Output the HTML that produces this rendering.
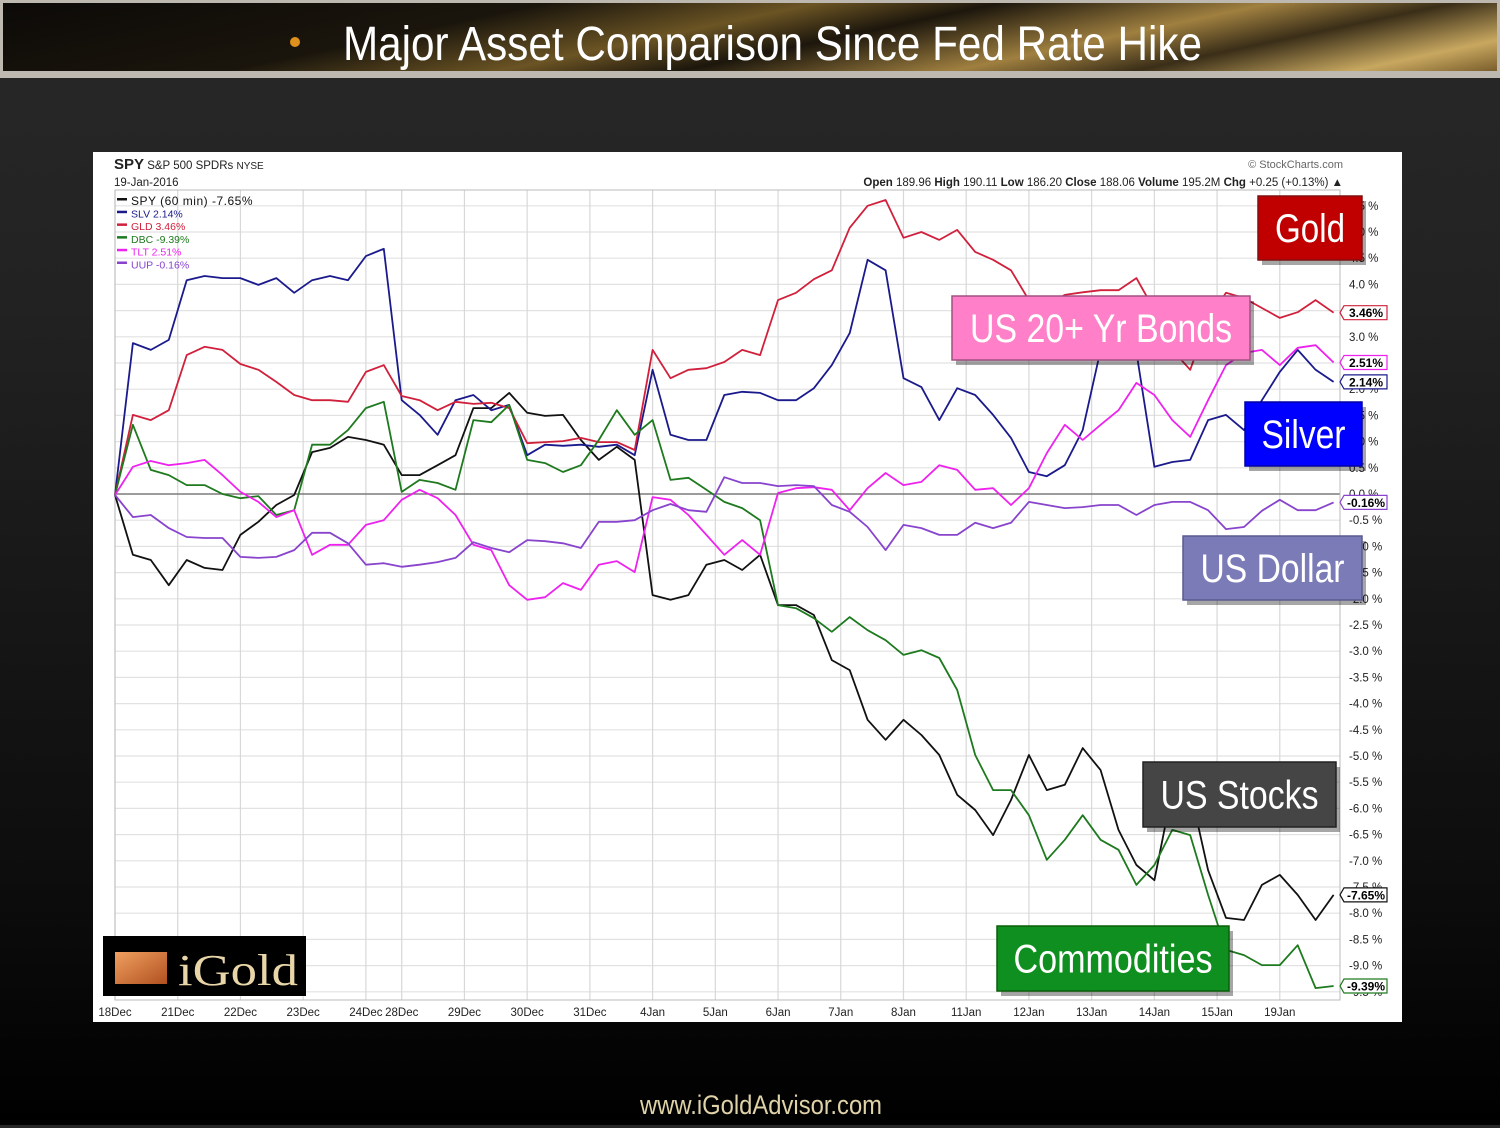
<!DOCTYPE html>
<html><head><meta charset="utf-8"><style>
html,body{margin:0;padding:0;}
body{width:1500px;height:1125px;overflow:hidden;background:linear-gradient(#282828 0px,#222 300px,#0c0c0c 900px,#000 1125px);font-family:"Liberation Sans",sans-serif;position:relative;}
#banner{position:absolute;left:0;top:0;width:1500px;height:78px;background:#bdb9b0;}
#banner-inner{position:absolute;left:3px;top:3px;width:1494px;height:68px;background:linear-gradient(168deg,#0c0a08 0%,#1a150c 30%,#6b5424 45%,#1c160c 55%,#a08040 70%,#3a2e18 80%,#c8a860 92%,#7a5e2c 100%);}
#chart{position:absolute;left:93px;top:152px;width:1309px;height:870px;background:#fff;}
svg text{font-family:"Liberation Sans",sans-serif;}
</style></head><body>
<div id="banner"><div id="banner-inner"></div></div>
<svg width="1500" height="80" style="position:absolute;left:0;top:0">
<circle cx="295" cy="42" r="5" fill="#e0901c"/>
<text x="343" y="60" font-size="48" fill="#fff" textLength="859" lengthAdjust="spacingAndGlyphs">Major Asset Comparison Since Fed Rate Hike</text>
</svg>
<div id="chart"></div>
<svg id="plot" width="1500" height="1125" style="position:absolute;left:0;top:0"></svg>
<svg width="1500" height="40" style="position:absolute;left:0;top:1088px">
<text x="640" y="26" font-size="27" fill="#e0d2a8" textLength="242" lengthAdjust="spacingAndGlyphs">www.iGoldAdvisor.com</text>
</svg>
<script>
const dayLabels=["18Dec","21Dec","22Dec","23Dec","24Dec","28Dec","29Dec","30Dec","31Dec","4Jan","5Jan","6Jan","7Jan","8Jan","11Jan","12Jan","13Jan","14Jan","15Jan","19Jan"];
const dayBars=[0,7,14,21,28,32,39,46,53,60,67,74,81,88,95,102,109,116,123,130];
const yTicks=[5.5,5,4.5,4,3.5,3,2.5,2,1.5,1,0.5,0,-0.5,-1,-1.5,-2,-2.5,-3,-3.5,-4,-4.5,-5,-5.5,-6,-6.5,-7,-7.5,-8,-8.5,-9,-9.5];
const sampleStep=2;
const spy=[-0.02,-1.16,-1.26,-1.74,-1.26,-1.41,-1.45,-0.78,-0.53,-0.21,-0.02,0.80,0.88,1.09,1.03,0.94,0.36,0.36,0.55,0.74,1.64,1.64,1.93,1.55,1.49,1.51,1.03,0.65,0.90,0.65,-1.93,-2.02,-1.93,-1.35,-1.26,-1.45,-1.16,-2.12,-2.12,-2.31,-3.17,-3.36,-4.31,-4.69,-4.31,-4.60,-4.98,-5.74,-6.03,-6.51,-5.84,-4.98,-5.65,-5.55,-4.85,-5.27,-6.41,-7.08,-7.37,-5.65,-5.65,-7.18,-8.09,-8.13,-7.46,-7.27,-7.65,-8.13,-7.65];
const slv=[-0.02,2.88,2.75,2.94,4.08,4.16,4.12,4.12,3.99,4.12,3.84,4.08,4.16,4.08,4.54,4.68,1.79,1.51,1.13,1.79,1.89,1.60,1.70,0.74,0.94,0.92,0.94,0.90,0.94,0.74,2.37,1.13,1.03,1.03,1.89,1.95,1.93,1.79,1.79,2.02,2.46,3.07,4.47,4.27,2.21,2.04,1.41,2.02,1.89,1.51,1.07,0.42,0.34,0.55,1.22,2.75,2.75,2.71,0.52,0.61,0.65,1.41,1.51,1.22,1.79,2.33,2.75,2.37,2.14];
const gld=[-0.02,1.51,1.41,1.60,2.65,2.81,2.75,2.48,2.37,2.14,1.89,1.79,1.79,1.76,2.33,2.46,1.87,1.79,1.60,1.76,1.72,1.74,1.64,0.97,0.99,1.01,1.07,0.99,0.99,0.84,2.75,2.21,2.37,2.40,2.52,2.75,2.65,3.70,3.84,4.10,4.27,5.08,5.50,5.61,4.89,5.00,4.85,5.04,4.62,4.47,4.27,3.70,3.61,3.80,3.85,3.89,3.89,4.12,3.51,2.75,2.37,3.32,3.84,3.74,3.55,3.36,3.47,3.70,3.46];
const dbc=[-0.02,1.32,0.46,0.36,0.17,0.17,0,-0.08,-0.04,-0.40,-0.31,0.94,0.94,1.22,1.64,1.76,0.04,0.27,0.21,0.08,1.41,1.37,1.70,0.65,0.59,0.42,0.55,1.03,1.60,1.13,1.41,0.27,0.31,0.08,-0.15,-0.27,-0.50,-2.12,-2.18,-2.37,-2.63,-2.35,-2.60,-2.79,-3.07,-2.98,-3.13,-3.74,-4.98,-5.65,-5.65,-6.13,-6.98,-6.60,-6.13,-6.60,-6.79,-7.46,-7.08,-6.41,-6.51,-7.65,-8.70,-8.80,-8.99,-8.99,-8.61,-9.43,-9.39];
const tlt=[-0.02,0.52,0.63,0.55,0.59,0.65,0.36,0.04,-0.15,-0.44,-0.31,-1.16,-0.97,-0.97,-0.59,-0.50,-0.11,0.08,-0.08,-0.40,-0.97,-1.07,-1.74,-2.02,-1.97,-1.70,-1.83,-1.35,-1.28,-1.49,-0.06,-0.11,-0.40,-0.78,-1.16,-0.88,-1.16,0.02,0.11,0.13,0.08,-0.31,0.11,0.40,0.17,0.23,0.55,0.46,0.08,0.11,-0.21,0.11,0.78,1.32,1.03,1.32,1.60,2.12,1.89,1.41,1.09,1.79,2.46,2.69,2.75,2.46,2.79,2.84,2.51];
const uup=[-0.02,-0.44,-0.40,-0.65,-0.82,-0.84,-0.84,-1.20,-1.22,-1.20,-1.07,-0.74,-0.74,-0.94,-1.35,-1.32,-1.39,-1.35,-1.30,-1.22,-0.92,-1.03,-1.11,-0.88,-0.90,-0.94,-1.03,-0.53,-0.53,-0.50,-0.31,-0.19,-0.31,-0.34,0.32,0.21,0.21,0.15,0.17,0.15,-0.21,-0.34,-0.63,-1.07,-0.59,-0.65,-0.78,-0.78,-0.55,-0.65,-0.55,-0.15,-0.21,-0.27,-0.25,-0.21,-0.21,-0.40,-0.21,-0.15,-0.15,-0.31,-0.67,-0.63,-0.32,-0.11,-0.31,-0.31,-0.16];
const seriesNames=["SPY (60 min) -7.65%","SLV 2.14%","GLD 3.46%","DBC -9.39%","TLT 2.51%","UUP -0.16%"];
const finalTags=["-7.65%","2.14%","3.46%","-9.39%","2.51%","-0.16%"];

const NS="http://www.w3.org/2000/svg";
const svg=document.getElementById('plot');
const X0=115,X1=1340,Y0=190,Y1=1000;
function xS(bar){return 115+bar*8.96;}
function yS(v){return 494-v*52.4;}
function mk(tag,attrs,parent){const e=document.createElementNS(NS,tag);for(const k in attrs)e.setAttribute(k,attrs[k]);(parent||svg).appendChild(e);return e;}
function txt(x,y,s,attrs,parent){const t=mk('text',Object.assign({x:x,y:y},attrs),parent);t.textContent=s;return t;}

let g=mk('g',{});


let t=txt(114,169,'',{ 'font-size':'11.5',fill:'#222'},g);
t.innerHTML='<tspan font-weight="bold" font-size="15">SPY</tspan> S&amp;P 500 SPDRs <tspan font-size="10">NYSE</tspan>';
txt(114,186,'19-Jan-2016',{'font-size':'11.5',fill:'#222'},g);
txt(1343,168,'© StockCharts.com',{'font-size':'11',fill:'#666','text-anchor':'end'},g);
t=txt(1343,186,'',{'font-size':'11.5',fill:'#222','text-anchor':'end'},g);
t.innerHTML='<tspan font-weight="bold">Open</tspan> 189.96 <tspan font-weight="bold">High</tspan> 190.11 <tspan font-weight="bold">Low</tspan> 186.20 <tspan font-weight="bold">Close</tspan> 188.06 <tspan font-weight="bold">Volume</tspan> 195.2M <tspan font-weight="bold">Chg</tspan> +0.25 (+0.13%) ▲';

let grid=mk('g',{});


yTicks.forEach(v=>{mk('line',{x1:X0,x2:X1,y1:yS(v),y2:yS(v),stroke:'#e2e2e2','stroke-width':1.2},grid);});
dayBars.forEach(b=>{mk('line',{x1:xS(b),x2:xS(b),y1:Y0,y2:Y1,stroke:'#d8d8d8','stroke-width':1.2},grid);});
mk('line',{x1:X0,x2:X1,y1:yS(0),y2:yS(0),stroke:'#666','stroke-width':1.2},grid);
mk('rect',{x:X0,y:Y0,width:X1-X0,height:Y1-Y0,fill:'none',stroke:'#bbb'},grid);

let xa=mk('g',{});


dayLabels.forEach((l,i)=>{txt(xS(dayBars[i]),1016,l,{'font-size':'11.5',fill:'#222','text-anchor':'middle'},xa);});
let ya=mk('g',{});


yTicks.forEach(v=>{txt(1349,yS(v)+4,v.toFixed(1)+' %',{'font-size':'11.5',fill:'#222'},ya);});

const data=[spy,slv,gld,dbc,tlt,uup];
const colors=['#111111','#1a1a8c','#d0203c','#1e7a1e','#ee22ee','#8844cc'];
const names=['series-spy','series-slv','series-gld','series-dbc','series-tlt','series-uup'];
data.forEach((arr,k)=>{
  const p=arr.map((v,i)=>(i?'L':'M')+xS(i*sampleStep).toFixed(1)+','+yS(v).toFixed(1)).join(' ');
  const el=mk('path',{d:p,fill:'none',stroke:colors[k],'stroke-width':1.8,'stroke-linejoin':'round'});
  
  
});

let lg=mk('g',{});


seriesNames.forEach((s,k)=>{
  const yy=201+k*12.7;
  mk('rect',{x:117,y:yy-3,width:10,height:2.5,fill:colors[k]},lg);
  const tt=txt(131,yy+1,s,{'font-size':k?'10.5':'12',fill:colors[k],'dominant-baseline':'middle','letter-spacing':k?'0':'0.5'},lg);
  
  
});

data.forEach((arr,k)=>{
  const v=arr[arr.length-1];
  let yy=yS(v);
  const tg=mk('g',{});
  
  
  mk('path',{d:`M1340,${yy} l4,-7 h43 v14 h-43 z`,fill:'#fff',stroke:colors[k],'stroke-width':1.2},tg);
  txt(1366,yy+4.5,finalTags[k],{'font-size':'12','font-weight':'bold',fill:'#000','text-anchor':'middle'},tg);
});

const boxes=[
 ['gold-label','Gold',1258,196,104,64,'#c00000','#801010',70],
 ['bonds-label','US 20+ Yr Bonds',952,296,298,64,'#ff80c8','#a05080',262],
 ['silver-label','Silver',1245,402,117,64,'#0000ff','#0000a0',84],
 ['dollar-label','US Dollar',1183,536,179,64,'#7b7bb8','#5a5a90',144],
 ['stocks-label','US Stocks',1143,762,193,65,'#454545','#222',158],
 ['commodities-label','Commodities',997,926,232,65,'#0f8f1f','#0a600a',199]];
boxes.forEach(b=>{
  const bg=mk('g',{});
  
  
  mk('rect',{x:b[2]+4,y:b[3]+5,width:b[4],height:b[5],fill:'rgba(0,0,0,0.35)'},bg);
  mk('rect',{x:b[2],y:b[3],width:b[4],height:b[5],fill:b[6],stroke:b[7],'stroke-width':1.5},bg);
  txt(b[2]+b[4]/2-b[8]/2,b[3]+b[5]/2+14,b[1],{'font-size':'40',fill:'#fff',textLength:b[8],lengthAdjust:'spacingAndGlyphs'},bg);
});

const lo=mk('g',{});


mk('rect',{x:103,y:936,width:203,height:60,fill:'#000'},lo);
const grd=mk('linearGradient',{id:'lg1',x1:0,x2:1,y1:0,y2:1},mk('defs',{},lo));
mk('stop',{offset:'0','stop-color':'#f0a060'},grd);mk('stop',{offset:'1','stop-color':'#b05020'},grd);
mk('rect',{x:115,y:952,width:52,height:32,fill:'url(#lg1)'},lo);
txt(178,985,'iGold',{'font-size':'44',fill:'#e8d6a8',textLength:120,lengthAdjust:'spacingAndGlyphs',style:"font-family:'Liberation Serif',serif"},lo);
</script>
</body></html>
